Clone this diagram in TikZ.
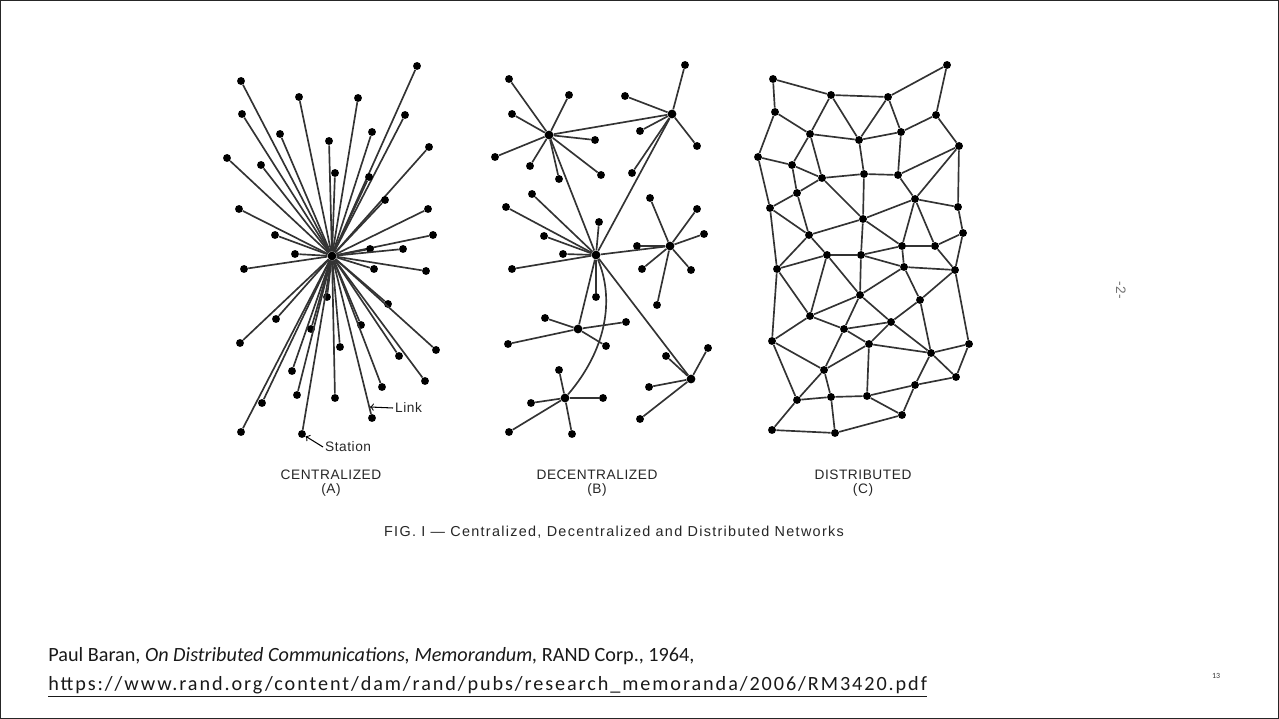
\documentclass[tikz,border=0pt]{standalone}
\usepackage{fontspec}
\setmainfont{Carlito}
\newfontfamily\figfont[LetterSpace=4]{Liberation Sans}
\newfontfamily\capfont[LetterSpace=9]{Liberation Sans}
\newfontfamily\urlfont[LetterSpace=9.5]{Carlito}
\usetikzlibrary{positioning}

\begin{document}
\begin{tikzpicture}[x=0.02cm, y=-0.02cm,
  stn/.style={circle, fill=black, inner sep=0pt, minimum size=4.5pt},
  hub/.style={stn, minimum size=5pt},
  link/.style={line width=0.95pt, black!80},
  figlabel/.style={font=\figfont\fontsize{7.8}{9}\selectfont, text=black!85, inner sep=1pt}]
  \useasboundingbox (0,0) rectangle (1279,719);
  % Frame
  \draw[line width=1.2pt, black!85] (0,0) rectangle (1279,719);

  % Centralized (A)
  \node[hub] (hubA) at (332,256) {};
  \foreach \n/\x/\y in {1/241/81, 2/417/66, 3/299/97, 4/358/98, 5/242/114,
      6/405/115, 7/280/134, 8/372/132, 9/329/141, 10/227/158, 11/261/165,
      12/429/147, 13/335/173, 14/369/177, 15/239/209, 16/385/200, 17/428/209,
      18/275/235, 19/433/235, 20/370/249, 21/403/249, 22/295/254, 23/244/269,
      24/374/269, 25/426/271, 26/327/297, 27/388/304, 28/276/319, 29/311/329,
      30/361/325, 31/240/343, 32/436/350, 33/340/347, 34/399/356, 35/292/371,
      36/425/381, 37/297/395, 38/382/387, 39/335/398, 40/262/403, 41/372/418,
      42/241/432, 43/302/434} {
    \node[stn] (A\n) at (\x,\y) {};
    \draw[link] (hubA) -- (A\n);
  }
  % Link and station labels
  \coordinate (lk) at (370,407);
  \node[figlabel, anchor=west] (lklabel) at (393,408) {Link};
  \draw[->, line width=0.6pt] (lklabel.west) -- (lk);
  \node[figlabel, anchor=west] (stlabel) at (323,447) {Station};
  \draw[->, line width=0.6pt] (stlabel.west) -- (A43);

  % Decentralized (B)
  \node[hub] (bh1) at (549,135) {};
  \node[hub] (bh2) at (672,114) {};
  \node[hub] (bh3) at (596,255) {};
  \node[hub] (bh4) at (670,246) {};
  \node[hub] (bh5) at (578,329) {};
  \node[hub] (bh6) at (691,379) {};
  \node[hub] (bh7) at (565,398) {};
  \foreach \h/\n/\x/\y in {bh1/1/509/79, bh1/2/569/95, bh1/3/512/114,
      bh1/4/595/140, bh1/5/495/157, bh1/6/530/166, bh1/7/559/179, bh1/8/601/175,
      bh2/9/685/65, bh2/10/625/96, bh2/11/640/131, bh2/12/697/146, bh2/13/632/173,
      bh3/14/532/194, bh3/15/506/207, bh3/16/599/222, bh3/17/544/236,
      bh3/18/563/254, bh3/19/512/269, bh3/20/596/297,
      bh4/21/650/198, bh4/22/697/209, bh4/23/704/234, bh4/24/637/246,
      bh4/25/642/269, bh4/26/691/270, bh4/27/657/305,
      bh5/28/545/318, bh5/29/626/322, bh5/30/508/344, bh5/31/606/346,
      bh6/32/666/356, bh6/33/708/348, bh6/34/649/387, bh6/35/640/419,
      bh7/36/559/370, bh7/37/531/403, bh7/38/603/398, bh7/39/509/432,
      bh7/40/572/434} {
    \node[stn] (B\n) at (\x,\y) {};
    \draw[link] (\h) -- (B\n);
  }
  \draw[link] (bh1) -- (bh2);
  \draw[link] (bh1) -- (bh3);
  \draw[link] (bh2) -- (bh3);
  \draw[link] (bh3) -- (bh4);
  \draw[link] (bh3) -- (bh5);
  \draw[link] (bh3) -- (bh6);
  \draw[link] (bh3) .. controls (615,300) and (606,350) .. (bh7);

  % Distributed (C)
  \foreach \n/\x/\y in {a1/773/79, a2/831/95, a3/888/97, a4/947/65,
      b1/775/112, b2/936/115, c1/810/134, c2/859/140, c3/901/132,
      d1/758/157, d2/792/165, d3/959/146, e1/822/178, e2/864/174, e3/898/175,
      f1/797/193, f2/915/199, g1/770/208, g2/958/207, h1/863/219,
      i1/809/235, i2/963/233, j1/902/246, j2/935/246, k1/827/255, k2/861/255,
      l1/777/269, l2/904/267, l3/955/270, m1/860/295, m2/920/300,
      n1/810/316, n2/891/322, n3/844/329, o1/772/341, o2/869/344,
      o3/969/344, o4/931/353, p1/824/370, p2/956/377, p3/915/385,
      q1/797/400, q2/831/397, q3/867/396, r1/902/415, s1/772/430, s2/835/433}
    \node[stn] (c\n) at (\x,\y) {};
  \foreach \a/\b in {a1/a2, a1/b1, a2/a3, a3/a4, a4/b2, a2/c1, a2/c2, a3/c2,
      a3/c3, b1/c1, b1/d1, c1/c2, c2/c3, c3/b2, b2/d3, c1/d2, c1/e1, d1/d2,
      d2/e1, c2/e2, c3/e3, e1/e2, e2/e3, e3/d3, d3/f2, d3/g2, d1/g1, d2/f1,
      e1/f1, f1/g1, e1/h1, e2/h1, e3/f2, f2/h1, f2/g2, g2/i2, f2/j1, f2/j2,
      f1/i1, g1/i1, i1/h1, h1/j1, h1/k2, j1/j2, j2/i2, g1/l1, i1/l1, i1/k1,
      k1/k2, k2/j1, k2/l2, j1/l2, j2/l3, l2/l3, i2/l3, l1/k1, k1/m1, k2/m1,
      l2/m1, l2/m2, l3/m2, l1/n1, k1/n1, n1/m1, m1/n3, m1/n2, m2/n2, m2/o4,
      l3/o3, n1/o1, n1/n3, n3/n2, n3/o2, n2/o2, n2/o4, o2/o4, o4/o3, o4/p2,
      o3/p2, o4/p3, n3/p1, o2/p1, o1/p1, o1/q1, l1/o1, p1/q1, p1/q2, q1/q2,
      q2/q3, o2/q3, q3/p3, p3/p2, q3/r1, p3/r1, q1/s1, q2/s2, s1/s2, s2/r1}
    \draw[link] (c\a) -- (c\b);

  % Captions
  \node[figlabel] (capA) at (331,475) {CENTRALIZED};
  \node[figlabel, below=0pt of capA] (capAb) {(A)};
  \node[figlabel] (capB) at (597,475) {DECENTRALIZED};
  \node[figlabel, below=0pt of capB] (capBb) {(B)};
  \node[figlabel] (capC) at (863,475) {DISTRIBUTED};
  \node[figlabel, below=0pt of capC] (capCb) {(C)};
  \node[figlabel, font=\capfont\fontsize{8.2}{9}\selectfont] (fig) at (614,532)
    {FIG. I — Centralized, Decentralized and Distributed Networks};
  \node[figlabel, rotate=-90, text=black!55] (pgtwo) at (1121,290) {-2-};

  % Reference
  \node[anchor=west, inner sep=0pt, font=\fontsize{11.5}{13}\selectfont, text=black!90] (ref1) at (48,656)
    {Paul Baran, \textit{On Distributed Communications, Memorandum,} RAND Corp., 1964,};
  \node[anchor=west, inner sep=0pt, font=\urlfont\fontsize{11.5}{13}\selectfont, text=black!90] (ref2) at (48,687)
    {\underline{https://www.rand.org/content/dam/rand/pubs/research\_memoranda/2006/RM3420.pdf}};
  \node[font=\fontsize{4.5}{5}\selectfont, text=black!80] (pg) at (1216,676) {13};
\end{tikzpicture}
\end{document}
